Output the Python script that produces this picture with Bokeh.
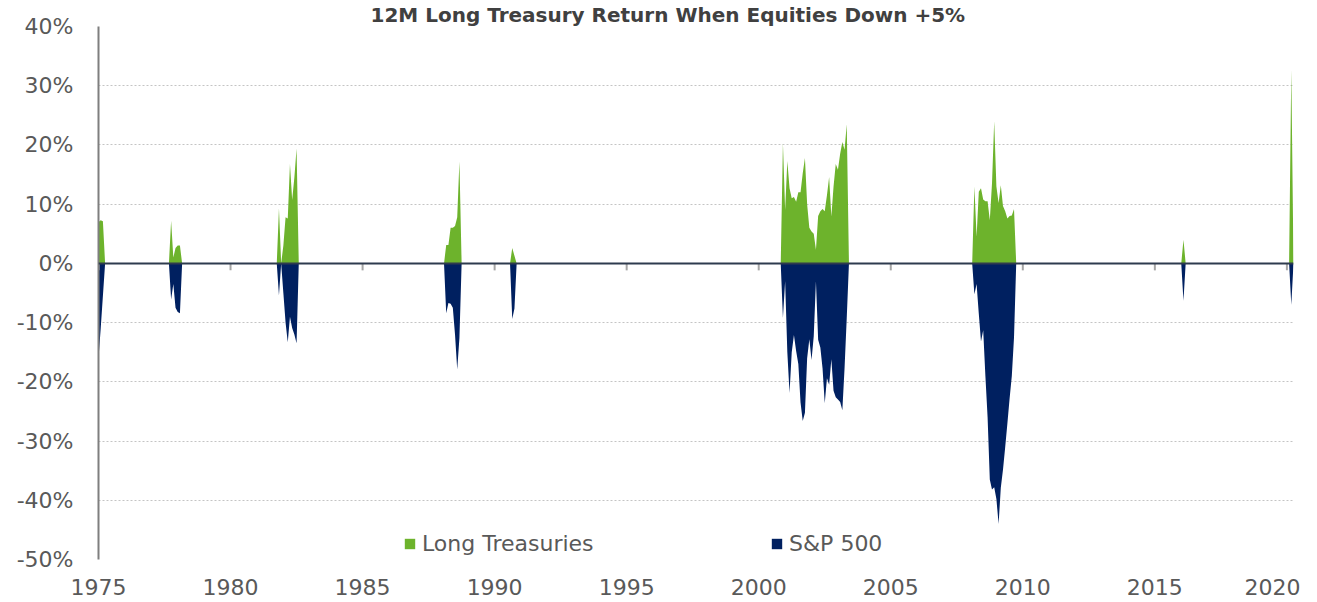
import numpy as np
import pandas as pd
from bokeh.plotting import figure
from bokeh.models import (Range1d, FixedTicker, Span, Legend, LegendItem,
                          ColumnDataSource)
from bokeh.embed import file_html
from bokeh.resources import INLINE

# ---------------- data (12M returns, %) ----------------
title_text = "12M Long Treasury Return When Equities Down +5%"
series_names = ["Long Treasuries", "S&P 500"]
first_month = "1975-01"
last_month = "2020-04"

# months in which the S&P 500 12M return was down; zero elsewhere
episode_start = ["1975-01", "1977-10", "1981-11", "1988-03", "1990-09",
                 "2000-12", "2008-03", "2016-02", "2020-03"]

tsy_1975 = [7.0, 7.3, 7.1]
spx_1975 = [-16.0, -11.0, -5.5]

tsy_1977 = [7.2, 1.0, 2.6, 3.0, 3.0]
spx_1977 = [-6.1, -3.5, -7.5, -8.2, -8.4]

tsy_1981 = [9.3, 0.0, 3.0, 7.8, 7.6, 16.8, 10.7, 14.5, 19.4]
spx_1981 = [-5.4, 0.0, -5.0, -10.0, -13.3, -9.0, -10.9, -12.0, -13.5]

tsy_1988 = [3.1, 3.1, 6.0, 6.0, 6.3, 7.8, 17.2]
spx_1988 = [-8.4, -6.7, -6.8, -7.5, -12.0, -17.9, -12.6]

tsy_1990 = [2.6, 1.3]
spx_1990 = [-9.4, -7.6]

tsy_2000 = [20.3, 9.0, 17.3, 12.7, 11.0, 11.2, 10.4, 12.0, 12.0, 15.2,
            17.8, 10.0, 6.0, 5.4, 5.0, 2.3, 8.0, 8.8, 9.2, 8.8,
            11.5, 14.6, 7.9, 13.0, 16.8, 15.8, 18.5, 20.5, 19.2, 23.5]
spx_2000 = [-9.2, -3.0, -15.0, -21.9, -15.0, -12.1, -14.8, -17.0, -23.5, -26.6,
            -25.2, -16.0, -12.8, -16.3, -12.3, -3.0, -12.9, -14.2, -17.7, -23.6,
            -19.4, -20.5, -16.2, -21.5, -22.6, -23.0, -23.4, -24.8, -17.7, -9.2]

tsy_2008 = [13.0, 4.5, 12.1, 12.7, 10.8, 10.5, 10.5, 7.3, 13.5, 24.0,
            13.0, 10.2, 13.2, 9.7, 8.8, 7.6, 8.0, 8.1, 9.2]
spx_2008 = [-5.2, -3.5, -8.5, -13.2, -11.3, -19.0, -26.0, -36.5, -38.2, -37.8,
            -39.8, -44.0, -37.9, -34.8, -31.0, -27.0, -22.8, -19.0, -12.5]

tsy_2016 = [4.0]
spx_2016 = [-6.3]

tsy_2020 = [32.7]
spx_2020 = [-7.0]

tsy_episodes = [tsy_1975, tsy_1977, tsy_1981, tsy_1988, tsy_1990,
                tsy_2000, tsy_2008, tsy_2016, tsy_2020]
spx_episodes = [spx_1975, spx_1977, spx_1981, spx_1988, spx_1990,
                spx_2000, spx_2008, spx_2016, spx_2020]

x_ticks = [1975, 1980, 1985, 1990, 1995, 2000, 2005, 2010, 2015, 2020]
y_ticks = [-50, -40, -30, -20, -10, 0, 10, 20, 30, 40]

# ---------------- build monthly series ----------------
months = pd.period_range(first_month, last_month, freq="M")
n = len(months)
x = np.array([p.year + (p.month - 1) / 12.0 for p in months])
tsy = np.zeros(n)
spx = np.zeros(n)
for start, t_vals, s_vals in zip(episode_start, tsy_episodes, spx_episodes):
    i = months.get_loc(pd.Period(start, freq="M"))
    tsy[i:i + len(t_vals)] = t_vals
    spx[i:i + len(s_vals)] = s_vals

src = ColumnDataSource(dict(x=x, tsy=tsy, spx=spx, zero=np.zeros(n)))

# ---------------- style ----------------
FONT = "DejaVu Sans"
GREEN = "#6db32c"
NAVY = "#002060"
TEXT = "#595959"

p = figure(width=1300, height=602,
           x_range=Range1d(1975, 1975 + (n - 1) / 12.0),
           y_range=Range1d(-50, 40),
           output_backend="svg", toolbar_location=None,
           min_border_left=98, min_border_right=7,
           min_border_top=24, min_border_bottom=43)
p.outline_line_color = None
p.background_fill_color = "white"

# title (left-aligned with an offset so it is centred on the page like the source)
p.title.text = title_text
p.title.text_font = FONT
p.title.text_font_style = "bold"
p.title.text_font_size = "20px"
p.title.text_color = "#404040"
p.title.align = "left"
p.title.offset = 272
p.title.standoff = 0
p.title.vertical_align = "bottom"

r_tsy = p.varea(x="x", y1="zero", y2="tsy", source=src, fill_color=GREEN)
r_spx = p.varea(x="x", y1="zero", y2="spx", source=src, fill_color=NAVY)

# axes
p.xaxis.ticker = FixedTicker(ticks=x_ticks)
p.xaxis.major_label_overrides = {t: str(t) for t in x_ticks}
p.xaxis.axis_line_color = None
p.xaxis.major_tick_line_color = None
p.xaxis.minor_tick_line_color = None
p.xaxis.major_tick_in = 0
p.xaxis.major_tick_out = 0
p.xaxis.major_label_standoff = 19
p.xaxis.major_label_text_font = FONT
p.xaxis.major_label_text_font_size = "22px"
p.xaxis.major_label_text_color = TEXT

p.yaxis.ticker = FixedTicker(ticks=y_ticks)
p.yaxis.major_label_overrides = {t: f"{t}%" for t in y_ticks}
p.yaxis.axis_line_color = "#7f7f7f"
p.yaxis.axis_line_width = 2
p.yaxis.major_tick_line_color = None
p.yaxis.minor_tick_line_color = None
p.yaxis.major_tick_in = 0
p.yaxis.major_tick_out = 0
p.yaxis.major_label_standoff = 25
p.yaxis.major_label_text_font = FONT
p.yaxis.major_label_text_font_size = "22px"
p.yaxis.major_label_text_color = TEXT

p.xgrid.visible = False
p.ygrid.ticker = FixedTicker(ticks=y_ticks)
p.ygrid.grid_line_color = "#c4c4c4"
p.ygrid.grid_line_dash = "2 2"
p.ygrid.grid_line_width = 1

# zero line with small tick marks at the year ticks
TICK_LEN = 7 / 5.94  # ~7 px in % units
tick_src = ColumnDataSource(dict(x=x_ticks, y0=[0] * len(x_ticks),
                                 y1=[-TICK_LEN] * len(x_ticks)))
p.segment(x0="x", y0="y0", x1="x", y1="y1", source=tick_src,
          line_color="#a6a6a6", line_width=2)
p.add_layout(Span(location=0, dimension="width", line_color="#2e3b4e",
                  line_width=2))

# legends
def make_legend(label, renderer, loc):
    lg = Legend(items=[LegendItem(label=label, renderers=[renderer])],
                location=loc, orientation="horizontal",
                padding=0, margin=0, spacing=0,
                glyph_width=13, glyph_height=13, label_standoff=6,
                label_text_font=FONT, label_text_font_size="22px",
                label_text_color=TEXT,
                background_fill_alpha=0, border_line_color=None)
    return lg

p.add_layout(make_legend(series_names[0], r_tsy, (305, 3)))
p.add_layout(make_legend(series_names[1], r_spx, (672, 3)))

open("out.html", "w").write(file_html(p, INLINE))
